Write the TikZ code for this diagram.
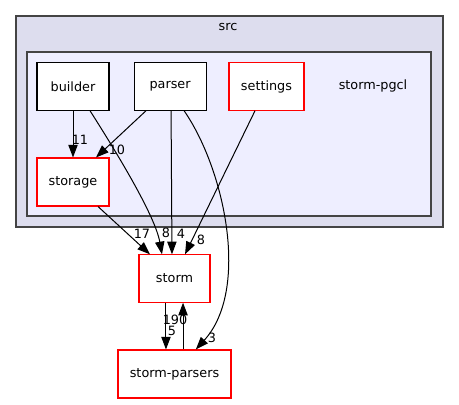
\documentclass[tikz,border=0pt]{standalone}
\usepackage{fontspec}
\setmainfont{DejaVu Sans}
\usetikzlibrary{arrows.meta,positioning}
\definecolor{srcfill}{HTML}{DDDDEE}
\definecolor{pgclfill}{HTML}{EEEEFF}
\definecolor{clusterline}{HTML}{444444}
\tikzset{x=0.75pt, y=-0.75pt, % one unit is one pixel of the drawing
>={Triangle[length=9.5pt,width=7pt]}, % graphviz-like filled heads
every node/.style={font=\fontsize{9.6}{11}\selectfont},
dirbox/.style={draw, fill=white, line width=0.8pt, minimum width=54pt, minimum height=35.5pt, inner sep=0pt}, % a directory
reddir/.style={dirbox, draw=red}, % a directory with sub directories
cluster/.style={draw=clusterline, line width=1.1pt}, % the frames round src and storm-pgcl
dep/.style={->, line width=0.75pt}, % a dependency edge
cnt/.style={inner sep=0pt}, % the number on an edge
}
\begin{document}
\begin{tikzpicture}
\useasboundingbox (0,0) rectangle (459,404);
% the two clusters
\draw[cluster, fill=srcfill] (16,16) rectangle (443,227);
\node (srclabel) at (228,27) {src};
\draw[cluster, fill=pgclfill] (27,52) rectangle (431,216);
\node (pgcllabel) at (373,86) {storm-pgcl};
% directories
\node[dirbox] (builder) at (73,86.5) {builder};
\node[dirbox, right=18pt of builder] (parser) {parser};
\node[reddir, minimum width=56.25pt] (settings) at (266.5,86.5) {settings};
\node[reddir, minimum height=36pt] (storage) at (73,182) {storage};
\node[reddir, minimum width=53.25pt] (storm) at (174.5,278.5) {storm};
\node[reddir, minimum width=84.75pt, minimum height=36pt] (parsers) at (174.5,374) {storm-parsers};
% dependencies
\draw[dep] (builder.south) -- (storage.north);
\draw[dep] ([xshift=-18pt]parser.south) -- ([xshift=17.25pt]storage.north);
\draw[dep] ([xshift=12.75pt]builder.south) .. controls (115,150) and (155,215) .. ([xshift=-9.4pt]storm.north);
\draw[dep] ([xshift=0.75pt]parser.south) -- ([xshift=-1.9pt]storm.north);
\draw[dep] ([xshift=10.5pt]parser.south) .. controls (225,170) and (250,290) .. ([xshift=16pt]parsers.north);
\draw[dep] ([xshift=-8.6pt]settings.south) -- ([xshift=7.9pt]storm.north);
\draw[dep] ([xshift=18.75pt]storage.south) -- ([xshift=-18.4pt]storm.north);
\draw[dep] ([xshift=-6.4pt]storm.south) -- ([xshift=-6.4pt]parsers.north);
\draw[dep] ([xshift=6.4pt]parsers.north) -- ([xshift=6.4pt]storm.south);
% numbers of the dependencies
\node[cnt] (n11) at (80,140) {11};
\node[cnt] (n10) at (117,150) {10};
\node[cnt] (n17) at (142,234) {17};
\node[cnt] (n8a) at (166,233) {8};
\node[cnt] (n4) at (181,234) {4};
\node[cnt] (n8b) at (201,240) {8};
\node[cnt] (n3) at (212,338) {3};
\node[cnt] (n5) at (172,331) {5};
\node[cnt] (n190) at (175,320) {190};
\end{tikzpicture}
\end{document}
